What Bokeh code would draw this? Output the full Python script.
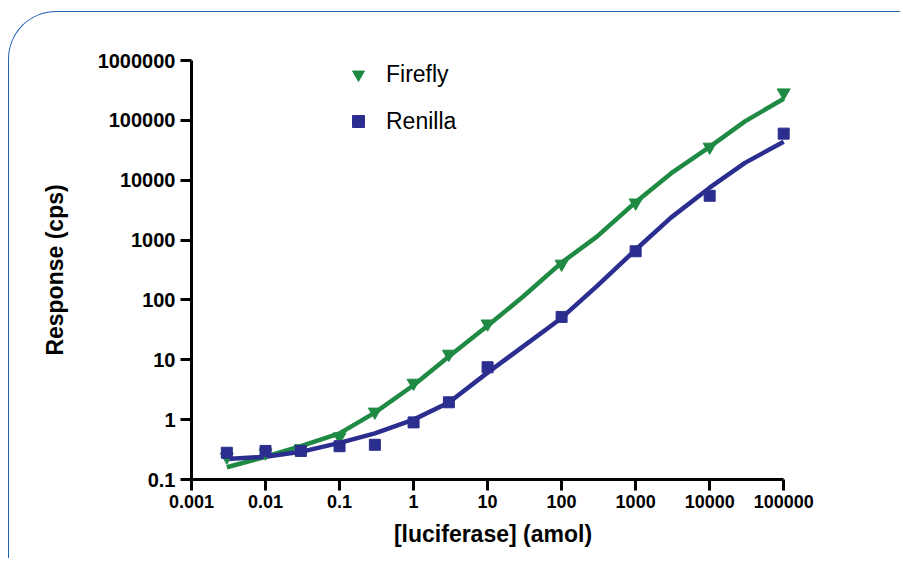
from bokeh.plotting import figure
from bokeh.models import FixedTicker, Legend, LegendItem
from bokeh.embed import file_html
from bokeh.resources import INLINE

# ---- data ----
dose = [0.003, 0.01, 0.03, 0.1, 0.3, 1, 3, 10, 100, 1000, 10000, 100000]
firefly = [0.24, 0.28, 0.33, 0.52, 1.35, 4.1, 12.5, 40, 400, 4200, 36000, 290000]
renilla = [0.28, 0.30, 0.30, 0.36, 0.38, 0.9, 1.95, 7.5, 52, 650, 5500, 60000]

fit_dose = [0.003, 0.01, 0.03, 0.1, 0.3, 1, 3, 10, 30, 100, 300, 1000, 3000, 10000, 30000, 100000]
firefly_fit = [0.16, 0.24, 0.36, 0.59, 1.31, 3.75, 11.3, 37, 113, 420, 1140, 4300, 13000, 36000, 96000, 230000]
renilla_fit = [0.22, 0.24, 0.29, 0.41, 0.59, 1.0, 1.93, 6.1, 16.6, 50, 170, 690, 2370, 7500, 19500, 44000]

x_ticks = [0.001, 0.01, 0.1, 1, 10, 100, 1000, 10000, 100000]
x_tick_labels = ["0.001", "0.01", "0.1", "1", "10", "100", "1000", "10000", "100000"]
y_ticks = [0.1, 1, 10, 100, 1000, 10000, 100000, 1000000]
y_tick_labels = ["0.1", "1", "10", "100", "1000", "10000", "100000", "1000000"]

GREEN = "#1f8a44"
BLUE = "#2b2e8e"
FRAME = "#2263b2"
FONT = "Liberation Sans"

p = figure(width=892, height=547, x_axis_type="log", y_axis_type="log",
           x_range=(0.001, 140000), y_range=(0.1, 1000000),
           output_backend="svg", toolbar_location=None,
           min_border_left=182, min_border_top=48,
           min_border_right=107, min_border_bottom=80,
           x_axis_label="[luciferase] (amol)", y_axis_label="Response (cps)")
p.styles = {"border-top": f"1.6px solid {FRAME}", "border-left": f"1.6px solid {FRAME}",
            "border-top-left-radius": "48px", "overflow": "hidden",
            "margin-top": "11px", "margin-left": "8px"}

p.outline_line_color = None
p.grid.visible = False
p.background_fill_color = "white"
p.border_fill_color = None

for ax, ticks, labels, fs in ((p.xaxis[0], x_ticks, x_tick_labels, "18px"),
                              (p.yaxis[0], y_ticks, y_tick_labels, "20px")):
    ax.ticker = FixedTicker(ticks=ticks)
    ax.major_label_overrides = dict(zip(ticks, labels))
    ax.axis_line_width = 3
    ax.axis_line_color = "black"
    ax.major_tick_line_width = 3
    ax.major_tick_line_color = "black"
    ax.major_tick_in = 0
    ax.major_tick_out = 11
    ax.minor_tick_line_color = None
    ax.major_label_text_font = FONT
    ax.major_label_text_font_style = "bold"
    ax.major_label_text_font_size = fs
    ax.major_label_text_color = "black"
    ax.axis_label_text_font = FONT
    ax.axis_label_text_font_style = "bold"
    ax.axis_label_text_font_size = "23px"
    ax.axis_label_text_color = "black"

p.xaxis.bounds = (x_ticks[0], x_ticks[-1])
p.xaxis.major_label_standoff = 4
p.xaxis.axis_label_standoff = 10
p.yaxis.major_label_standoff = 5
p.yaxis.axis_label_standoff = 27

p.line(fit_dose, firefly_fit, line_color=GREEN, line_width=4.5)
p.line(fit_dose, renilla_fit, line_color=BLUE, line_width=4.5)
ff = p.scatter(dose, firefly, marker="inverted_triangle", size=13, color=GREEN)
rn = p.scatter(dose, renilla, marker="square", size=11, color=BLUE)

legend = Legend(items=[LegendItem(label="Firefly", renderers=[ff]),
                       LegendItem(label="Renilla", renderers=[rn])],
                location=(152, 343), border_line_color=None,
                background_fill_alpha=0, padding=0, margin=0, spacing=17,
                glyph_width=30, glyph_height=30, label_height=30,
                label_standoff=13, label_text_font=FONT,
                label_text_font_size="23px", label_text_color="black")
p.add_layout(legend)

open("out.html", "w").write(file_html(p, INLINE))
